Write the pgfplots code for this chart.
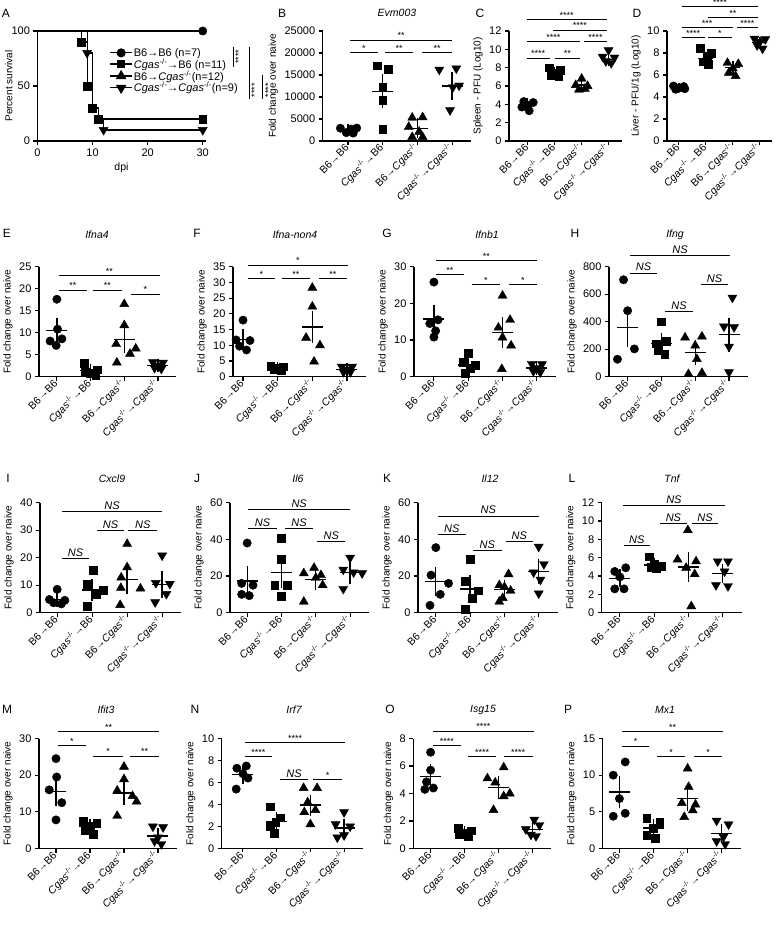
\documentclass[border=0pt]{standalone}
\usepackage{fontspec}
\setmainfont{Liberation Sans}
\usepackage{pgfplots}
\pgfplotsset{compat=1.18}
\newcommand{\Cg}{\textit{Cgas}\textsuperscript{-/-}}
\newcommand{\ar}{→}
\newcommand{\sigS}[4]{\draw[line width=1pt] (axis cs:#1,#3) -- (axis cs:#2,#3) node[midway,above,inner sep=1pt,font=\fontsize{9}{9}\selectfont] {#4};}
\newcommand{\sigN}[3]{\draw[line width=1pt] (axis cs:#1,#3) -- (axis cs:#2,#3) node[midway,above,inner sep=1.5pt,font=\fontsize{11}{11}\selectfont\itshape] {NS};}
\pgfplotsset{
  base/.style={
    scale only axis, height=110pt, anchor=south west,
    axis x line*=bottom, axis y line*=left,
    axis line style={-, line width=1.1pt},
    tick style={black, line width=1.1pt},
    tick align=outside, major tick length=4pt,
    ymin=0, clip=false, enlargelimits=false,
    /pgf/number format/assume math mode=true,
    /pgf/number format/1000 sep={},
    scaled y ticks=false,
    y tick label style={font=\fontsize{11}{11}\selectfont},
    label style={font=\fontsize{10.5}{10.5}\selectfont},
    ylabel near ticks,
    ylabel style={inner sep=3pt},
  },
  prism/.style={base,
    xtick={0,1,2,3}, xmax=3.55,
    xticklabels={{B6\ar B6},{\Cg\ar B6},{B6\ar\Cg},{\Cg\ar\Cg}},
    x tick label style={rotate=45, anchor=east, font=\fontsize{10.5}{10.5}\selectfont, inner sep=1.5pt},
    ylabel={Fold change over naive},
  },
  g1/.style={only marks, mark=*, mark size=4.2pt, black},
  g2/.style={only marks, mark=square*, mark size=3.9pt, black},
  g3/.style={only marks, mark=triangle*, mark size=5.2pt, black},
  g4/.style={only marks, mark=triangle*, mark size=5.2pt, black, mark options={rotate=180}},
  msem/.style={only marks, mark=-, mark size=10.5pt, black, mark options={line width=1.3pt},
    error bars/y dir=both, error bars/y explicit, error bars/error mark=-,
    error bars/error mark options={mark size=5pt, line width=1.3pt}, error bars/error bar style={line width=1.3pt}},
  msems/.style={msem, mark size=7.5pt, error bars/error mark options={mark size=4pt, line width=1.3pt}},
}
\begin{document}
\begin{tikzpicture}
\useasboundingbox (0,0) rectangle (777pt,932pt);
\fill[white] (0,0) rectangle (777pt,932pt);
% ---------------- A
\begin{axis}[base, width=168pt, at={(37.5pt,791pt)},
 xmin=0, xmax=30.5, ymax=100, xtick={0,10,20,30}, ytick={0,50,100},
 x tick label style={font=\fontsize{11}{11}\selectfont},
 xlabel={dpi}, ylabel={Percent survival},
 ylabel style={at={(axis description cs:-0.142,0.5)}, anchor=south, inner sep=1pt},
 legend style={at={(0.41,0.875)}, anchor=north west, draw=none, fill=none, font=\fontsize{11}{11}\selectfont, row sep=-1.5pt, nodes={inner sep=1.2pt}},
 legend cell align=left,
 legend image code/.code={\draw[mark repeat=2,mark phase=2,#1] plot coordinates {(0pt,0pt)(11pt,0pt)(22pt,0pt)};},
]
\addplot[forget plot, line width=1.1pt] coordinates {(0,100)(30,100)};
\addplot[forget plot, g1] coordinates {(30,100)};
\addplot[forget plot, line width=1.1pt] coordinates {(0,100)(8,100)(8,90)(9,90)(9,50)(10,50)(10,30)(11,30)(11,20)(30,20)};
\addplot[forget plot, g2] coordinates {(8,90)(9,50)(10,30)(11,20)(30,20)};
\addplot[forget plot, line width=1.1pt] coordinates {(0,100)(9,100)(9,80)(10,80)(10,30)(11,30)(11,20)(12,20)(12,10)(30,10)};
\addplot[forget plot, g4] coordinates {(9,80)(12,10)(30,10)};
\addlegendimage{line width=1.1pt, mark=*, mark size=4pt}
\addlegendentry{B6\ar B6 (n=7)}
\addlegendimage{line width=1.1pt, mark=square*, mark size=3.7pt}
\addlegendentry{\Cg\ar B6 (n=11)}
\addlegendimage{line width=1.1pt, mark=triangle*, mark size=5pt}
\addlegendentry{B6\ar\Cg(n=12)}
\addlegendimage{line width=1.1pt, mark=triangle*, mark size=5pt, mark options={rotate=180}}
\addlegendentry{\Cg\ar\Cg(n=9)}
\draw[line width=1pt] (axis cs:35.5,85.5) -- (axis cs:35.5,67.3);
\node[rotate=90, anchor=north, inner sep=1pt, font=\fontsize{9}{9}\selectfont] at (axis cs:35.7,76.4) {****};
\draw[line width=1pt] (axis cs:38.4,85.5) -- (axis cs:38.4,38.2);
\node[rotate=90, anchor=north, inner sep=1pt, font=\fontsize{9}{9}\selectfont] at (axis cs:38.6,46) {****};
\draw[line width=1pt] (axis cs:40.9,60) -- (axis cs:40.9,38.2);
\node[rotate=90, anchor=north, inner sep=1pt, font=\fontsize{9}{9}\selectfont] at (axis cs:41.1,46) {****};
\end{axis}
% ---------------- B
\begin{axis}[prism, width=148.5pt, at={(322.7pt,791pt)}, xmin=-0.73, ymax=25000, ytick={0,5000,10000,15000,20000,25000}]
\addplot[g1] coordinates {(-0.22,2900)(-0.05,1900)(0.08,2700)(0.25,2950)(0.15,1800)};
\addplot[g2] coordinates {(0.85,17100)(1.15,16400)(1.0,12300)(1.0,9300)(1.0,2700)};
\addplot[g3] coordinates {(1.85,5300)(2.15,5400)(1.75,3200)(2.05,2100)(1.85,900)(2.15,900)};
\addplot[g4] coordinates {(2.63,16200)(3.12,16500)(3.02,12200)(2.94,7000)(3.2,12600)};
\addplot[msem] coordinates {(0,2450)+-(0,250) (1,11300)+-(0,2750) (2,2900)+-(0,1100) (3,12500)+-(0,2100)};
\sigS{0.06}{3.0}{22950}{**}\sigS{0.06}{0.86}{20000}{*}\sigS{1.07}{1.87}{20000}{**}\sigS{2.13}{3.0}{20000}{**}
\end{axis}
% ---------------- C
\begin{axis}[prism, width=113pt, at={(509pt,791pt)}, xmin=-0.7, xmax=3.5, ymax=12, ytick={0,2,4,6,8,10,12}, ylabel={Spleen - PFU (Log10)}]
\addplot[g1] coordinates {(-0.15,4.3)(0.2,4.2)(0.0,3.9)(-0.22,3.7)(0.05,3.3)};
\addplot[g2] coordinates {(0.8,8.0)(1.2,7.7)(1.0,7.4)(0.85,7.2)(1.15,7.1)};
\addplot[g3] coordinates {(2.0,6.8)(1.78,6.1)(2.22,6.0)(1.9,5.6)(2.12,5.7)};
\addplot[g4] coordinates {(3.0,9.9)(2.78,9.2)(3.22,9.1)(2.9,8.7)(3.1,8.5)};
\addplot[msems] coordinates {(0,4.0)+-(0,0.2) (1,7.45)+-(0,0.18) (2,6.1)+-(0,0.2) (3,8.9)+-(0,0.25)};
\sigS{-0.04}{2.93}{13.2}{****}\sigS{0.93}{2.93}{12.1}{****}\sigS{-0.04}{1.93}{10.8}{****}\sigS{2.1}{2.93}{10.8}{****}\sigS{-0.04}{0.81}{9.05}{****}\sigS{1.0}{1.93}{9.05}{**}
\end{axis}
% ---------------- D
\begin{axis}[prism, width=105pt, at={(667pt,791pt)}, xmin=-0.44, xmax=3.45, ymax=10, ytick={0,2,4,6,8,10}, ylabel={Liver - PFU/1g (Log10)}]
\addplot[g1] coordinates {(-0.2,5.0)(0.18,4.95)(0.0,4.8)(-0.12,4.7)(0.22,4.75)};
\addplot[g2] coordinates {(0.8,8.4)(1.2,8.0)(1.05,7.6)(0.9,7.2)(1.1,6.95)};
\addplot[g3] coordinates {(1.8,7.1)(2.2,7.0)(2.0,6.6)(1.85,6.2)(2.1,5.9)};
\addplot[g4] coordinates {(2.8,9.3)(3.2,9.25)(3.0,9.0)(2.9,8.7)(3.1,8.4)};
\addplot[msems] coordinates {(0,4.85)+-(0,0.07) (1,7.5)+-(0,0.26) (2,6.65)+-(0,0.22) (3,8.95)+-(0,0.18)};
\sigS{0.1}{2.93}{12.2}{****}\sigS{1.07}{2.93}{11.2}{**}\sigS{0.1}{2.0}{10.3}{***}\sigS{2.15}{2.93}{10.3}{****}\sigS{0.1}{0.96}{9.4}{****}\sigS{1.07}{1.96}{9.4}{*}
\end{axis}
% ---------------- E
\begin{axis}[prism, width=137.5pt, at={(39pt,555.3pt)}, xmin=-0.53, ymax=25, ytick={0,5,10,15,20,25}]
\addplot[g1] coordinates {(0,17.6)(0.02,10.8)(-0.2,8.1)(0.15,8.6)(-0.02,7.1)};
\addplot[g2] coordinates {(0.8,3.0)(1.2,1.6)(1.0,0.8)(0.85,1.0)(1.15,0.3)};
\addplot[g3] coordinates {(2.0,16.5)(2.0,11.7)(1.76,7.4)(2.34,6.4)(2.17,5.2)(1.78,3.2)};
\addplot[g4] coordinates {(2.85,3.3)(3.15,3.2)(3.0,2.5)(2.9,2.0)(3.1,1.8)};
\addplot[msem] coordinates {(0,10.5)+-(0,1.8) (1,1.35)+-(0,0.5) (2,8.5)+-(0,2.0) (3,2.6)+-(0,0.35)};
\sigS{0.06}{3.06}{22.9}{**}\sigS{0.06}{0.89}{19.7}{**}\sigS{1.07}{1.93}{19.7}{**}\sigS{2.2}{3.06}{18.7}{*}
\end{axis}
% ---------------- F
\begin{axis}[prism, width=133pt, at={(233pt,555.3pt)}, xmin=-0.29, ymax=35, ytick={0,5,10,15,20,25,30,35}]
\addplot[g1] coordinates {(0,18.0)(-0.2,11.7)(0.2,11.5)(-0.1,9.7)(0.1,8.5)};
\addplot[g2] coordinates {(0.8,3.3)(1.15,3.2)(1.0,2.8)(0.9,2.2)(1.1,2.0)};
\addplot[g3] coordinates {(2.0,28.3)(2.0,22.3)(1.82,12.4)(2.22,10.0)(2.05,4.8)};
\addplot[g4] coordinates {(2.85,3.2)(3.15,3.2)(3.0,2.2)(2.9,1.5)(3.1,1.5)};
\addplot[msem] coordinates {(0,11.9)+-(0,1.7) (1,2.75)+-(0,0.35) (2,15.8)+-(0,3.5) (3,2.35)+-(0,0.4)};
\sigS{0.14}{3.03}{35.5}{*}\sigS{0.14}{0.92}{31.1}{*}\sigS{1.12}{1.93}{31.1}{**}\sigS{2.19}{3.0}{31.1}{**}
\end{axis}
% ---------------- G
\begin{axis}[prism, width=141.7pt, at={(414pt,555.3pt)}, xmin=-0.58, ymax=30, ytick={0,10,20,30}]
\addplot[g1] coordinates {(0,25.8)(0.12,15.5)(-0.12,14.5)(0.05,12.5)(0.0,10.8)};
\addplot[g2] coordinates {(1.0,6.4)(0.85,4.0)(1.2,3.2)(1.05,2.2)(0.92,1.0)};
\addplot[g3] coordinates {(2.0,22.1)(2.22,15.5)(1.88,13.4)(2.0,10.7)(2.25,8.5)(1.98,2.1)};
\addplot[g4] coordinates {(2.85,3.5)(3.15,3.4)(3.0,2.3)(2.9,1.5)(3.1,1.2)};
\addplot[msem] coordinates {(0,15.7)+-(0,2.6) (1,3.2)+-(0,0.9) (2,12.0)+-(0,2.9) (3,2.4)+-(0,0.45)};
\sigS{0.06}{3.0}{31.6}{**}\sigS{0.06}{0.87}{27.8}{**}\sigS{1.11}{1.92}{25.1}{*}\sigS{2.19}{3.0}{25.1}{*}
\end{axis}
% ---------------- H
\begin{axis}[prism, width=138.6pt, at={(609pt,555.3pt)}, xmin=-0.55, ymax=800, ytick={0,200,400,600,800}]
\addplot[g1] coordinates {(-0.12,705)(0.0,480)(0.2,202)(-0.3,127)};
\addplot[g2] coordinates {(1.0,400)(0.85,240)(1.15,260)(0.9,190)(1.1,165)};
\addplot[g3] coordinates {(1.7,285)(2.2,292)(2.0,226)(2.05,128)(1.8,19)(2.2,27)};
\addplot[g4] coordinates {(3.1,575)(2.85,365)(3.15,360)(3.0,218)(3.0,33)};
\addplot[msem] coordinates {(0,357)+-(0,105) (1,240)+-(0,45) (2,175)+-(0,52) (3,305)+-(0,88)};
\sigN{0.07}{3.03}{880}\sigN{0.07}{0.87}{754}\sigN{1.1}{1.94}{476}\sigN{2.17}{2.97}{667}
\end{axis}
% ---------------- I
\begin{axis}[prism, width=141.4pt, at={(40pt,319.3pt)}, xmin=-0.49, ymax=40, ytick={0,10,20,30,40}]
\addplot[g1] coordinates {(0,8.5)(-0.22,4.8)(0.22,4.5)(-0.1,3.6)(0.12,3.2)};
\addplot[g2] coordinates {(1.02,15.5)(0.85,10.3)(1.32,8.2)(1.12,6.8)(0.85,2.4)};
\addplot[g3] coordinates {(2.0,25)(2.0,16.5)(1.83,12.8)(1.82,9.0)(2.38,8.8)(1.8,2.8)};
\addplot[g4] coordinates {(3.0,20.8)(2.82,10.8)(3.22,10.5)(3.12,6.8)(2.8,3.8)};
\addplot[msem] coordinates {(0,4.85)+-(0,0.9) (1,8.2)+-(0,2.2) (2,12.0)+-(0,3.5) (3,10.3)+-(0,3.0)};
\sigN{0.14}{3.0}{36.7}\sigN{1.14}{1.91}{29.8}\sigN{2.03}{2.86}{29.8}\sigN{0.14}{0.91}{19.8}
\end{axis}
% ---------------- J
\begin{axis}[prism, width=139pt, at={(230pt,319.3pt)}, xmin=-0.5, ymax=60, ytick={0,20,40,60}]
\addplot[g1] coordinates {(0.0,38)(-0.16,16)(0.17,15)(-0.16,10)(0.06,9.3)};
\addplot[g2] coordinates {(1.0,40.5)(1.0,29)(0.8,15)(1.17,15)(1.0,9)};
\addplot[g3] coordinates {(1.65,21.5)(1.95,24.5)(2.0,19.0)(2.15,20.5)(2.2,15.0)(1.65,6.0)};
\addplot[g4] coordinates {(3.0,30)(2.8,23.5)(3.1,22.0)(3.35,21.5)(2.8,13)};
\addplot[msem] coordinates {(0,17.3)+-(0,5.3) (1,22)+-(0,6) (2,18.2)+-(0,3.2) (3,21.9)+-(0,3.3)};
\sigN{0.03}{3.0}{56.4}\sigN{0.03}{0.87}{46}\sigN{1.1}{1.92}{46}\sigN{2.04}{2.86}{38.7}
\end{axis}
% ---------------- K
\begin{axis}[prism, width=139.6pt, at={(418pt,319.3pt)}, xmin=-0.52, ymax=60, ytick={0,20,40,60}]
\addplot[g1] coordinates {(0.0,35.5)(-0.14,20.5)(0.37,16)(0.13,10)(-0.17,4)};
\addplot[g2] coordinates {(1.0,29)(0.85,17)(1.24,12)(1.05,8)(0.85,2)};
\addplot[g3] coordinates {(2.12,21)(1.85,15)(2.0,14)(2.18,12)(1.95,8)(1.85,6)};
\addplot[g4] coordinates {(3.0,36)(3.15,26.5)(2.85,22)(3.05,18)(3.0,10.5)};
\addplot[msem] coordinates {(0,17)+-(0,5.4) (1,13)+-(0,5) (2,12.8)+-(0,2.3) (3,22.3)+-(0,4)};
\sigN{0.06}{3.0}{52.7}\sigN{0.06}{0.87}{42.4}\sigN{1.08}{1.92}{33.8}\sigN{2.04}{2.83}{38.7}
\end{axis}
% ---------------- L
\begin{axis}[prism, width=140pt, at={(601.7pt,319.3pt)}, xmin=-0.53, ymax=12, ytick={0,2,4,6,8,10,12}]
\addplot[g1] coordinates {(-0.15,4.5)(0.17,4.9)(0.0,3.9)(-0.15,2.6)(0.12,2.6)};
\addplot[g2] coordinates {(0.85,6.1)(1.0,5.3)(1.2,5.1)(0.9,5.0)(1.05,4.85)};
\addplot[g3] coordinates {(1.98,9.0)(1.68,5.8)(2.22,5.6)(1.93,4.9)(2.18,4.2)(2.08,0.7)};
\addplot[g4] coordinates {(2.85,5.6)(3.15,5.6)(3.05,4.5)(2.8,3.0)(3.15,2.9)};
\addplot[msem] coordinates {(0,3.75)+-(0,0.45) (1,5.2)+-(0,0.2) (2,5.0)+-(0,1.1) (3,4.25)+-(0,0.5)};
\sigN{0.09}{3.06}{11.65}\sigN{1.17}{1.95}{9.7}\sigN{2.1}{2.86}{9.7}\sigN{0.12}{0.87}{7.3}
\end{axis}
% ---------------- M
\begin{axis}[prism, width=137.7pt, at={(39pt,83.5pt)}, xmin=-0.5, ymax=30, ytick={0,10,20,30}]
\addplot[g1] coordinates {(0,24.5)(0.02,19.5)(-0.2,16)(0.17,12.5)(0,7.8)};
\addplot[g2] coordinates {(0.8,7.5)(1.2,6.8)(1.0,6.0)(0.85,5.0)(1.1,4.0)};
\addplot[g3] coordinates {(2.0,22.3)(2.0,18.9)(1.8,15.8)(2.25,14.3)(2.37,12.8)(1.8,8.9)};
\addplot[g4] coordinates {(2.85,6.0)(3.15,5.8)(3.0,3.0)(2.9,2.0)(3.1,1.2)};
\addplot[msem] coordinates {(0,15.6)+-(0,2.7) (1,6.0)+-(0,0.6) (2,15.1)+-(0,2.0) (3,3.4)+-(0,0.9)};
\sigS{0.06}{3.03}{31.8}{**}\sigS{0.06}{0.88}{28.0}{*}\sigS{1.09}{1.97}{25.1}{*}\sigS{2.18}{3.03}{25.1}{**}
\end{axis}
% ---------------- N
\begin{axis}[prism, width=140.9pt, at={(221.7pt,83.5pt)}, xmin=-0.63, ymax=10, ytick={0,2,4,6,8,10}]
\addplot[g1] coordinates {(-0.18,7.3)(0.1,7.5)(0.0,6.8)(0.15,6.4)(-0.2,5.4)};
\addplot[g2] coordinates {(0.82,3.8)(1.12,2.8)(0.97,2.4)(0.8,2.0)(0.92,1.4)};
\addplot[g3] coordinates {(1.8,5.5)(2.2,5.5)(1.92,4.2)(2.15,3.5)(1.82,3.3)(2.0,2.2)};
\addplot[g4] coordinates {(3.0,3.3)(2.75,2.2)(3.18,2.0)(3.0,1.2)(2.8,1.0)};
\addplot[msem] coordinates {(0,6.7)+-(0,0.35) (1,2.45)+-(0,0.4) (2,3.95)+-(0,0.5) (3,1.85)+-(0,0.4)};
\sigS{0.06}{3.03}{9.6}{****}\sigS{0.06}{0.86}{8.35}{****}\sigN{1.1}{1.93}{6.24}\sigS{2.08}{2.94}{6.24}{*}
\end{axis}
% ---------------- O
\begin{axis}[prism, width=138pt, at={(413.3pt,83.5pt)}, xmin=-0.51, ymax=8, ytick={0,2,4,6,8}]
\addplot[g1] coordinates {(0,7.0)(0.0,5.7)(-0.12,4.85)(0.08,4.4)(-0.17,4.3)};
\addplot[g2] coordinates {(0.8,1.45)(1.2,1.3)(1.0,1.1)(0.85,1.0)(1.1,0.9)};
\addplot[g3] coordinates {(2.15,5.9)(1.67,5.1)(1.9,4.8)(2.33,4.0)(2.15,3.8)(1.85,2.8)};
\addplot[g4] coordinates {(3.05,2.1)(3.2,1.7)(2.8,1.4)(2.95,1.0)(3.1,0.9)};
\addplot[msem] coordinates {(0,5.25)+-(0,0.5) (1,1.15)+-(0,0.1) (2,4.45)+-(0,0.45) (3,1.4)+-(0,0.22)};
\sigS{0.07}{3.04}{8.53}{****}\sigS{0.07}{0.89}{7.46}{****}\sigS{1.1}{1.93}{6.66}{****}\sigS{2.15}{3.0}{6.66}{****}
\end{axis}
% ---------------- P
\begin{axis}[prism, width=137.8pt, at={(602.7pt,83.5pt)}, xmin=-0.49, ymax=15, ytick={0,5,10,15}]
\addplot[g1] coordinates {(0.17,11.8)(-0.18,10.0)(0.0,6.8)(-0.18,4.4)(0.17,4.8)};
\addplot[g2] coordinates {(0.8,4.1)(1.18,3.6)(1.0,2.8)(0.8,1.8)(1.05,1.4)};
\addplot[g3] coordinates {(2.0,10.9)(2.03,8.4)(1.83,6.2)(2.23,6.0)(1.9,4.3)(2.15,5.2)};
\addplot[g4] coordinates {(2.85,3.8)(3.2,3.3)(3.05,1.6)(2.85,1.0)(3.1,0.6)};
\addplot[msem] coordinates {(0,7.7)+-(0,1.45) (1,2.8)+-(0,0.5) (2,6.8)+-(0,1.0) (3,2.05)+-(0,0.55)};
\sigS{0.08}{3.04}{15.9}{**}\sigS{0.08}{0.87}{13.95}{*}\sigS{1.1}{1.93}{12.5}{*}\sigS{2.19}{3.01}{12.5}{*}
\end{axis}
% ---------------- letters and titles
\begin{scope}[x=1pt, y=-1pt, shift={(0pt,932pt)}]
\foreach \l/\px/\py in {A/6/13, B/282/13, C/480/13, D/637/13, E/7/233, F/197/233, G/387/233, H/575/233, I/8/478, J/197/478, K/387/478, L/572/478, M/7/709, N/195/709, O/390/709, P/568/709}
  \node[font=\fontsize{12}{12}\selectfont, inner sep=0pt] at (\px,\py) {\l};
\foreach \t/\px/\py in {Evm003/397/13, Ifna4/97/235, Ifna-non4/295/235, Ifnb1/487/235, Ifng/675/235, Cxcl9/112/479, Il6/298/479, Il12/490/479, Tnf/672/479, Ifit3/106/710, Irf7/294/710, Isg15/483/710, Mx1/665/710}
  \node[font=\fontsize{10.5}{10.5}\selectfont\itshape, inner sep=0pt] at (\px,\py) {\t};
\end{scope}
\end{tikzpicture}
\end{document}
